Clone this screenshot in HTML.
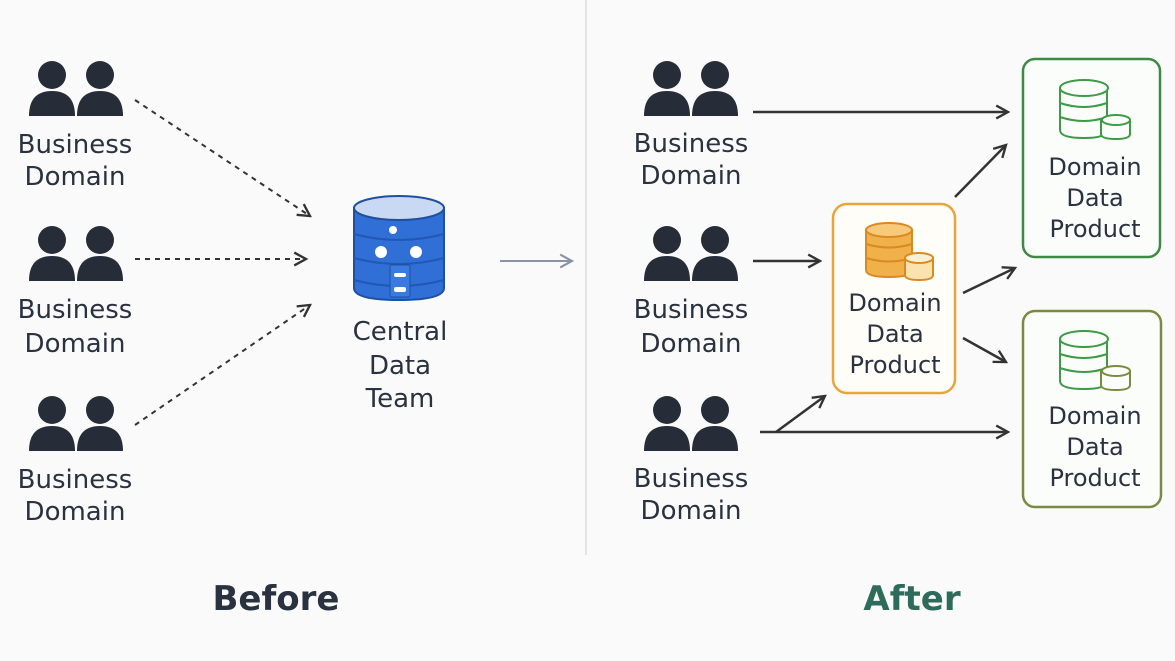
<!DOCTYPE html>
<html><head><meta charset="utf-8"><style>
html,body{margin:0;padding:0;background:#fafafa}
svg{display:block}
text{font-family:"DejaVu Sans","Liberation Sans",sans-serif;fill:#2a3240;font-size:26px;text-anchor:middle}
</style></head><body>
<svg width="1175" height="661" viewBox="0 0 1175 661">
<defs>
<g id="ppl" fill="#262d38">
<circle cx="22" cy="15" r="14"/><path d="M-1 56 Q-1 31 22 31 Q45 31 45 56 Z"/>
<circle cx="70" cy="15" r="14"/><path d="M47 56 Q47 31 70 31 Q93 31 93 56 Z"/>
</g>
<marker id="ah" viewBox="0 0 14 14" refX="12" refY="7" markerWidth="15" markerHeight="15" markerUnits="userSpaceOnUse" orient="auto"><path d="M1 1 L12 7 L1 13" fill="none" stroke="#333" stroke-width="2.2"/></marker>
<marker id="ahg" viewBox="0 0 14 14" refX="12" refY="7" markerWidth="15" markerHeight="15" markerUnits="userSpaceOnUse" orient="auto"><path d="M1 1 L12 7 L1 13" fill="none" stroke="#8a94a6" stroke-width="2"/></marker>
</defs>
<line x1="586" y1="0" x2="586" y2="555" stroke="#ddd" stroke-width="1.5"/>
<use href="#ppl" x="30" y="60"/><use href="#ppl" x="30" y="225"/><use href="#ppl" x="30" y="395"/>
<use href="#ppl" x="645" y="60"/><use href="#ppl" x="645" y="225"/><use href="#ppl" x="645" y="395"/>
<g>
<text x="75" y="153">Business</text><text x="75" y="185">Domain</text>
<text x="75" y="318">Business</text><text x="75" y="352">Domain</text>
<text x="75" y="488">Business</text><text x="75" y="520">Domain</text>
<text x="691" y="152">Business</text><text x="691" y="184">Domain</text>
<text x="691" y="318">Business</text><text x="691" y="352">Domain</text>
<text x="691" y="487">Business</text><text x="691" y="519">Domain</text>
<text x="400" y="340">Central</text><text x="400" y="374">Data</text><text x="400" y="407">Team</text>
</g>
<g stroke="#333" stroke-width="2" stroke-dasharray="5,5" fill="none">
<line x1="135" y1="100" x2="310" y2="216" marker-end="url(#ah)"/>
<line x1="135" y1="259" x2="306" y2="259" marker-end="url(#ah)"/>
<line x1="135" y1="425" x2="310" y2="305" marker-end="url(#ah)"/>
</g>
<line x1="500" y1="261" x2="572" y2="261" stroke="#8a94a6" stroke-width="2" marker-end="url(#ahg)"/>
<g stroke="#1f4f9e" stroke-width="2">
<path d="M354 208 L354 288 Q354 300 399 300 Q444 300 444 288 L444 208 Z" fill="#2f6fd6"/>
<ellipse cx="399" cy="208" rx="45" ry="12" fill="#c9d9f3"/>
<path d="M354 234 Q399 246 444 234 M354 258 Q399 270 444 258 M354 280 Q399 292 444 280" fill="none" stroke="#2257b5"/>
</g>
<circle cx="393" cy="230" r="4" fill="#fff"/><circle cx="381" cy="252" r="6" fill="#fff"/><circle cx="416" cy="252" r="6" fill="#fff"/>
<rect x="390" y="265" width="20" height="32" rx="2" fill="#3a7be0" stroke="#1f4f9e"/>
<rect x="394" y="273" width="12" height="4" rx="2" fill="#fff"/><rect x="394" y="287" width="12" height="5" rx="2" fill="#fff"/>
<g stroke="#333" stroke-width="2.5" fill="none">
<line x1="753" y1="112" x2="1008" y2="112" marker-end="url(#ah)"/>
<line x1="753" y1="261" x2="820" y2="261" marker-end="url(#ah)"/>
<line x1="760" y1="432" x2="1008" y2="432" marker-end="url(#ah)"/>
<line x1="776" y1="432" x2="825" y2="396" marker-end="url(#ah)"/>
<line x1="955" y1="197" x2="1006" y2="145" marker-end="url(#ah)"/>
<line x1="963" y1="293" x2="1015" y2="268" marker-end="url(#ah)"/>
<line x1="963" y1="338" x2="1006" y2="362" marker-end="url(#ah)"/>
</g>
<rect x="833" y="204" width="122" height="189" rx="14" fill="#fffdf8" stroke="#eaa43a" stroke-width="2.5"/>
<rect x="1023" y="59" width="137" height="198" rx="12" fill="#fbfdfb" stroke="#3d8a45" stroke-width="2.5"/>
<rect x="1023" y="311" width="138" height="196" rx="12" fill="#fbfdfb" stroke="#7a8a40" stroke-width="2.5"/>
<g stroke="#d98a20" stroke-width="2">
<path d="M866 230 L866 270 Q866 277 889 277 Q912 277 912 270 L912 230 Z" fill="#f0b04a"/>
<ellipse cx="889" cy="230" rx="23" ry="7" fill="#f7c979"/>
<path d="M866 244 Q889 251 912 244 M866 258 Q889 265 912 258" fill="none"/>
<path d="M905 258 L905 275 Q905 280 919 280 Q933 280 933 275 L933 258 Z" fill="#fbe3b0"/>
<ellipse cx="919" cy="258" rx="14" ry="5" fill="#fdf0d0"/>
</g>
<g stroke="#3d9a45" stroke-width="2" fill="#fbfdfb">
<path d="M1060 88 L1060 130 Q1060 138 1084 138 Q1107 138 1107 130 L1107 88 Z"/>
<ellipse cx="1084" cy="88" rx="24" ry="8"/>
<path d="M1060 103 Q1084 111 1107 103 M1060 117 Q1084 125 1107 117" fill="none"/>
<path d="M1101 120 L1101 134 Q1101 139 1116 139 Q1130 139 1130 134 L1130 120 Z"/>
<ellipse cx="1116" cy="120" rx="14" ry="5"/>
<path d="M1060 339 L1060 381 Q1060 389 1084 389 Q1107 389 1107 381 L1107 339 Z"/>
<ellipse cx="1084" cy="339" rx="24" ry="8"/>
<path d="M1060 354 Q1084 362 1107 354 M1060 368 Q1084 376 1107 368" fill="none"/>
<path d="M1101 371 L1101 385 Q1101 390 1116 390 Q1130 390 1130 385 L1130 371 Z" stroke="#7a8a40"/>
<ellipse cx="1116" cy="371" rx="14" ry="5" stroke="#7a8a40"/>
</g>
<g>
<text x="895" y="311" style="font-size:24px">Domain</text><text x="895" y="342" style="font-size:24px">Data</text><text x="895" y="373" style="font-size:24px">Product</text>
<text x="1095" y="175" style="font-size:24px">Domain</text><text x="1095" y="206" style="font-size:24px">Data</text><text x="1095" y="237" style="font-size:24px">Product</text>
<text x="1095" y="424" style="font-size:24px">Domain</text><text x="1095" y="455" style="font-size:24px">Data</text><text x="1095" y="486" style="font-size:24px">Product</text>
</g>
<text x="276" y="610" style="font-size:34px;font-weight:bold;fill:#2a3240">Before</text>
<text x="912" y="610" style="font-size:34px;font-weight:bold;fill:#2f6b5a">After</text>
</svg>
</body></html>
